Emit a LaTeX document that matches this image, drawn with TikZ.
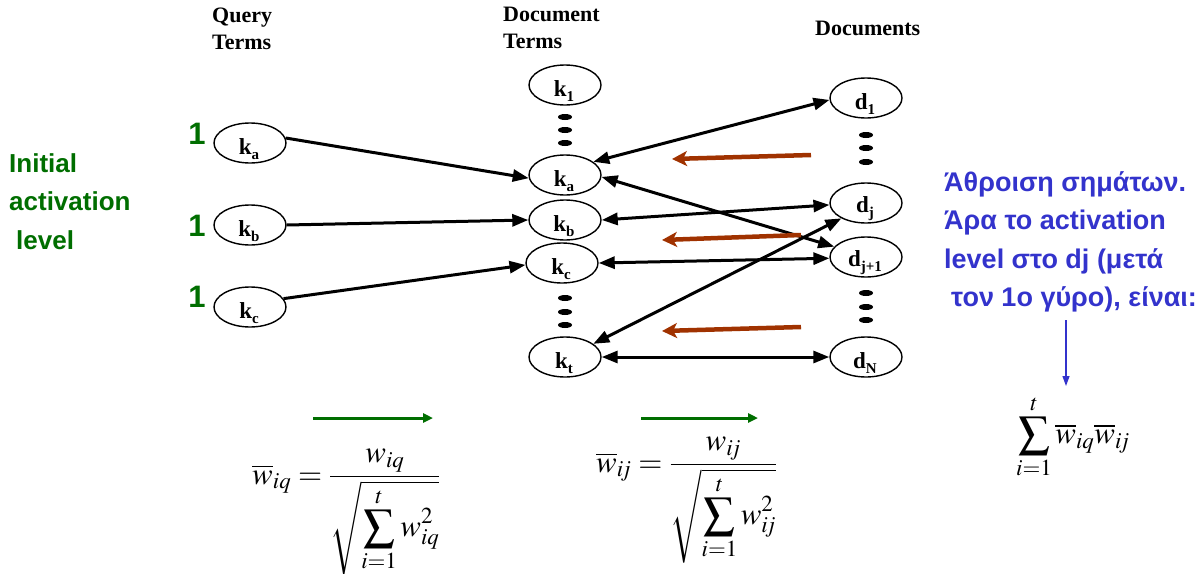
\documentclass[tikz,border=0pt]{standalone}
\usepackage{mathptmx}
\usepackage{fontspec}
\setmainfont{Liberation Serif}
\newfontfamily\arialf{Liberation Sans}
\usetikzlibrary{arrows.meta,shapes.geometric}
\definecolor{dgreen}{RGB}{0,110,0}
\definecolor{brn}{RGB}{160,50,0}
\definecolor{gblue}{RGB}{51,51,204}
\newcommand\nlab[2]{\textbf{#1\raisebox{-5pt}{\fontsize{15}{15}\selectfont #2}}}
\tikzset{
  term/.style={ellipse, draw, line width=1.4pt, minimum width=72pt, minimum height=40pt, inner sep=0pt},
  link/.style={line width=3pt, -{Triangle[length=16pt,width=12pt]}},
  blink/.style={line width=3pt, {Triangle[length=16pt,width=12pt]}-{Triangle[length=16pt,width=12pt]}},
  back/.style={brn, line width=4.5pt, -{Stealth[length=15pt,width=15pt,inset=4pt]}},
  fwd/.style={dgreen, line width=3pt, -{Triangle[length=10pt,width=9pt]}},
  dotm/.style={ellipse, fill, minimum width=14pt, minimum height=6pt, inner sep=0pt},
  hdr/.style={font=\fontsize{22}{27}\selectfont\bfseries, align=left, anchor=north west, inner sep=0pt},
  one/.style={text=dgreen, font=\arialf\bfseries\fontsize{31}{31}\selectfont, inner sep=0pt},
  glab/.style={font=\arialf\bfseries\fontsize{26}{38.5}\selectfont, align=left, anchor=north west, inner sep=0pt},
  blab/.style={font=\arialf\bfseries\fontsize{27}{38.5}\selectfont, align=left, anchor=north west, inner sep=0pt},
  fml/.style={font=\fontsize{31}{38}\selectfont, inner sep=0pt},
  nl/.style={label={[font=\fontsize{23}{23}\selectfont, yshift=-6pt, xshift=-1pt]center:#1}}
}
\begin{document}
\begin{tikzpicture}[x=1pt,y=-1pt]
\useasboundingbox (0,0) rectangle (1204,573);
% headers
\node[hdr] (hq) at (212,8) {Query\\Terms};
\node[hdr] (hd) at (503,7) {Document\\Terms};
\node[hdr] (hdd) at (815,21) {Documents};
% query term nodes
\node[term, nl={\nlab{k}{a}}] (qa) at (250,143) {};
\node[term, nl={\nlab{k}{b}}] (qb) at (250,225) {};
\node[term, nl={\nlab{k}{c}}] (qc) at (250,307) {};
% document term nodes
\node[term, nl={\nlab{k}{1}}] (k1) at (565,85) {};
\node[term, nl={\nlab{k}{a}}] (ka) at (565,175) {};
\node[term, nl={\nlab{k}{b}}] (kb) at (565,220) {};
\node[term, nl={\nlab{k}{c}}] (kc) at (562,263) {};
\node[term, nl={\nlab{k}{t}}] (kt) at (565,357) {};
% document nodes
\node[term, nl={\nlab{d}{1}}] (d1) at (866,98) {};
\node[term, nl={\nlab{d}{j}}] (dj) at (866,203) {};
\node[term, nl={\nlab{d}{j+1}}] (dj1) at (866,257) {};
\node[term, nl={\nlab{d}{N}}] (dN) at (866,357) {};
% vertical dots
\foreach \y [count=\i] in {117,130,143} \node[dotm] (ud\i) at (565,\y) {};
\foreach \y [count=\i] in {298,312,325} \node[dotm] (ld\i) at (565,\y) {};
\foreach \y [count=\i] in {135,148,162} \node[dotm] (dd\i) at (866,\y) {};
\foreach \y [count=\i] in {293,307,320} \node[dotm] (ed\i) at (866,\y) {};
% green ones and left label
\node[one] (o1) at (197,134) {1};
\node[one] (o2) at (197,226) {1};
\node[one] (o3) at (197,297) {1};
\node[glab, text=dgreen] (init) at (9,153) {Initial\\activation\\\hspace*{7pt}level};
% query -> doc terms
\draw[link] (qa.8) -- (ka.185);
\draw[link] (qb.east) -- (kb.west);
\draw[link] (qc.14) -- (kc.183);
% doc terms <-> documents
\draw[blink] (ka.25) -- (d1.183);
\draw[blink] (ka.-3) -- (dj1.162);
\draw[blink] (kb.east) -- (dj.183);
\draw[blink] (kc.east) -- (dj1.182);
\draw[blink] (kt.25) -- (dj.212);
\draw[blink] (kt.east) -- (dN.west);
% brown back arrows
\coordinate (b1s) at (811,155); \coordinate (b1e) at (672,159);
\coordinate (b2s) at (801,235); \coordinate (b2e) at (662,240);
\coordinate (b3s) at (801,327); \coordinate (b3e) at (662,331);
\draw[back] (b1s) -- (b1e);
\draw[back] (b2s) -- (b2e);
\draw[back] (b3s) -- (b3e);
% green forward arrows
\coordinate (g1s) at (313,418); \coordinate (g1e) at (433,418);
\coordinate (g2s) at (641,418); \coordinate (g2e) at (758,418);
\draw[fwd] (g1s) -- (g1e);
\draw[fwd] (g2s) -- (g2e);
% formulas
\node[fml, anchor=west] (f1) at (252,512) {$\displaystyle \overline{w}_{iq}=\frac{w_{iq}}{\sqrt{\displaystyle\sum_{i=1}^{t} w_{iq}^{2}}}$};
\node[fml, anchor=west] (f2) at (596,500) {$\displaystyle \overline{w}_{i\mkern-2mu j}=\frac{w_{i\mkern-2mu j}}{\sqrt{\displaystyle\sum_{i=1}^{t} w_{i\mkern-2mu j}^{2}}}$};
% right side
\node[blab, text=gblue] (gr) at (944,171) {Άθροιση σημάτων.\\Άρα το activation\\level στο dj (μετά\\\hspace*{7pt}τον 1ο γύρο), είναι:};
\coordinate (bs) at (1066,320); \coordinate (be) at (1066,386);
\draw[gblue, line width=1.2pt, -{Triangle[length=10pt,width=7pt]}] (bs) -- (be);
\node[fml] (f3) at (1073,437) {$\displaystyle\sum_{i=1}^{t}\overline{w}_{iq}\overline{w}_{i\mkern-2mu j}$};
\end{tikzpicture}
\end{document}
